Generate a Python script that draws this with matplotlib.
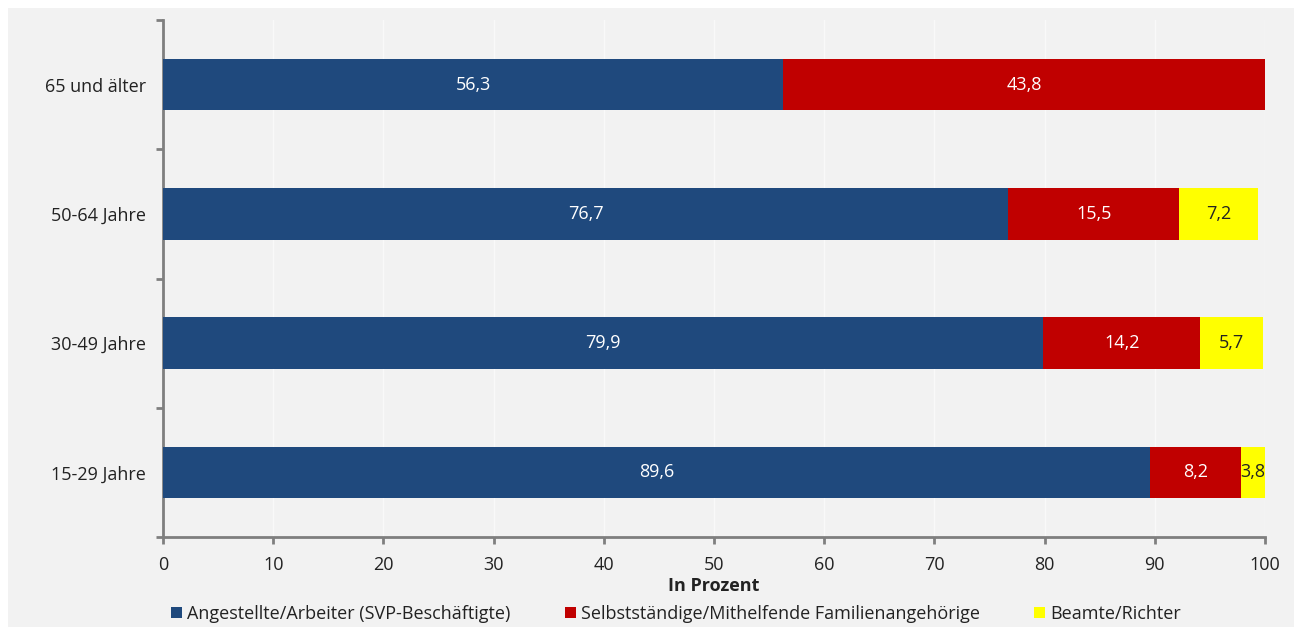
import numpy as np
import matplotlib.pyplot as plt
from matplotlib.patches import Rectangle

plt.rcParams['font.family'] = ['Open Sans', 'DejaVu Sans']

# Daten
groups = ["15-29 Jahre", "30-49 Jahre", "50-64 Jahre", "65 und älter"]
angestellte = [89.6, 79.9, 76.7, 56.3]
selbst = [8.2, 14.2, 15.5, 43.8]
beamte = [3.8, 5.7, 7.2, 0.0]
series_names = ["Angestellte/Arbeiter (SVP-Beschäftigte)",
                "Selbstständige/Mithelfende Familienangehörige",
                "Beamte/Richter"]
colors = ["#1f497d", "#c00000", "#ffff00"]
text_colors = ["white", "white", "#222222"]

W, H = 1294, 627
fig = plt.figure(figsize=(W / 100, H / 100), dpi=100, facecolor="white")
# grauer Hintergrund
fig.patches.append(Rectangle((8 / W, 0), 1, (H - 8) / H,
                             transform=fig.transFigure, facecolor="#f2f2f2",
                             edgecolor="none", zorder=-10))

ax = fig.add_axes([163 / W, 1 - 537 / H, (1265 - 163) / W, (537 - 20) / H])
ax.set_facecolor("#f2f2f2")

y = np.arange(len(groups))
left = np.zeros(len(groups))
for vals, name, c, tc in zip([angestellte, selbst, beamte], series_names, colors, text_colors):
    vals = np.array(vals)
    ax.barh(y, vals, left=left, height=0.4, color=c, label=name, zorder=3)
    for yi, l, v in zip(y, left, vals):
        if v > 0:
            xc = (l + min(l + v, 100)) / 2
            ax.text(xc, yi, f"{v:.1f}".replace(".", ","), ha="center", va="center",
                    color=tc, fontsize=13, zorder=4)
    left = left + vals

ax.set_xlim(0, 100)
ax.set_ylim(-0.5, 3.5)
ax.set_xticks(np.arange(0, 101, 10))
ax.set_yticks(y)
ax.set_yticklabels(groups)
ax.set_yticks(np.arange(-0.5, 3.6, 1), minor=True)
ax.tick_params(axis="y", which="major", length=0, pad=12, labelsize=13, labelcolor="#222222")
ax.tick_params(axis="y", which="minor", length=5, width=2, color="#7f7f7f")
ax.tick_params(axis="x", length=5, width=2, color="#7f7f7f", labelsize=13,
               labelcolor="#222222", pad=9)
ax.grid(axis="x", color="#f9f9f9", linewidth=1, zorder=0)
ax.set_axisbelow(True)

for s in ["top", "right"]:
    ax.spines[s].set_visible(False)
for s in ["left", "bottom"]:
    ax.spines[s].set_color("#7f7f7f")
    ax.spines[s].set_linewidth(2)

ax.set_xlabel("In Prozent", fontsize=13, fontweight="bold", color="#222222", labelpad=2)

fig.legend(loc="center", bbox_to_anchor=(676 / W, 1 - 614 / H), ncol=3, frameon=False,
           fontsize=13, handlelength=0.6, handleheight=0.6, handletextpad=0.3,
           columnspacing=3.0, labelcolor="#222222", borderpad=0)

fig.savefig("out.png", dpi=100, facecolor="white")
